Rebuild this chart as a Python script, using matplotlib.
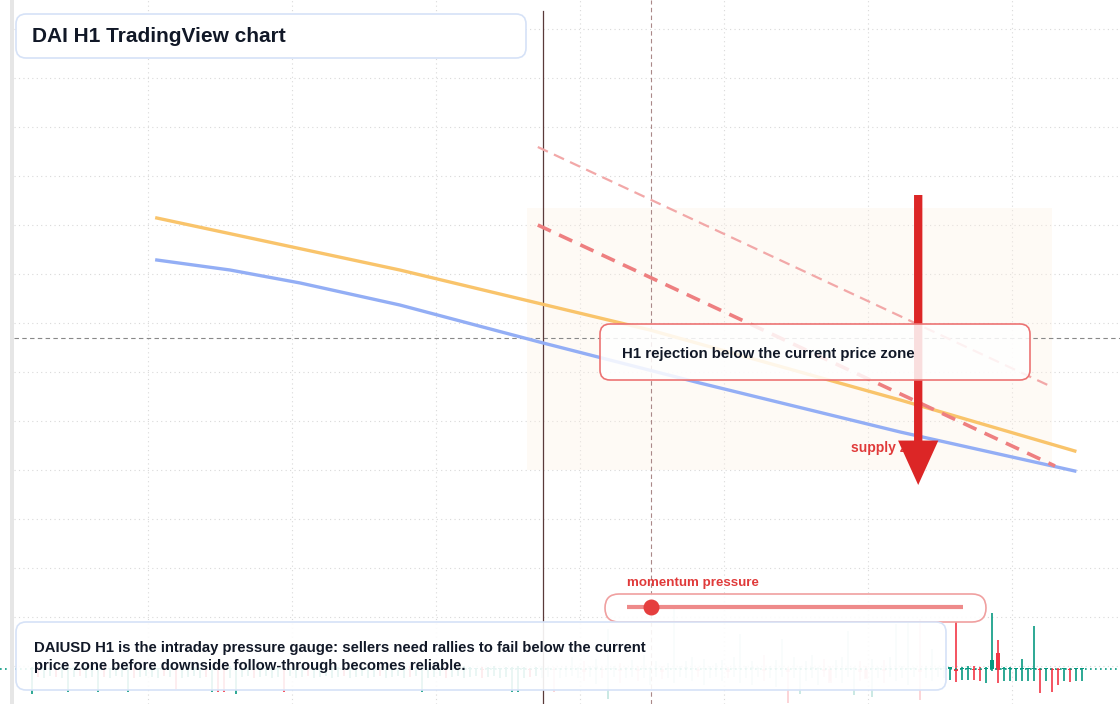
import matplotlib
matplotlib.use("Agg")
import matplotlib.pyplot as plt
from matplotlib.patches import FancyBboxPatch, Rectangle

plt.rcParams["font.family"] = ["Liberation Sans", "DejaVu Sans"]

# ---- data (bar index, price offsets in 1e-5 around 1.0000) ----
BASE = 1.0
PIP = 1e-5

lows = [-25, -8, -9, -7, -8, -9, -23, -8, -7, -9, -8, -23, -8, -9, -7, -8, -23, -9, -8, -7,
        -8, -9, -7, -8, -20, -9, -8, -7, -9, -8, -23, -23, -23, -9, -25, -8, -7, -9, -8, -7,
        -9, -8, -23, -7, -9, -8, -7, -9, -8, -7, -9, -8, -7, -9, -8, -7, -9, -8, -7, -9,
        -8, -7, -9, -8, -7, -23, -9, -8, -7, -9, -8, -7, -9, -8, -7, -9, -8, -7, -9, -8,
        -23, -23, -9, -8, -7, -9, -8, -23, -9, -8, -7, -9, -12, -8, -15, -9, -30, -8, -14, -9,
        -8, -12, -9, -16, -8, -10, -9, -14, -8, -9, -12, -8, -16, -9, -8, -12, -9, -8, -14, -9,
        -16, -8, -12, -9, -18, -8, -34, -9, -25, -12, -9, -16, -8, -12, -9, -14, -8, -26, -12, -9,
        -28, -9, -14, -8, -12, -9, -16, -8, -31, -9, -12, -8, -9, -11, -13, -11, -11, -11, -12, -14,
        -2, -14, -12, -12, -12, -12, -12, -12, -24, -12, -23, -16, -12, -13, -12, -12]
highs = [2, 3, 2, 1, 2, 3, 2, 2, 1, 3, 2, 2, 3, 1, 2, 2, 3, 2, 1, 2,
         2, 1, 3, 2, 2, 1, 3, 2, 2, 3, 1, 2, 2, 3, 2, 1, 2, 2, 3, 1,
         2, 3, 2, 1, 2, 2, 3, 2, 1, 2, 3, 2, 2, 1, 3, 2, 2, 1, 2, 3,
         2, 1, 2, 3, 2, 2, 1, 3, 2, 2, 1, 2, 3, 2, 1, 2, 2, 3, 1, 2,
         2, 3, 2, 1, 2, 3, 2, 2, 1, 3, 12, 2, 8, 3, 10, 2, 40, 3, 6, 2,
         9, 3, 14, 2, 8, 3, 6, 61, 3, 8, 12, 2, 10, 3, 6, 9, 2, 12, 35, 3,
         8, 2, 14, 3, 9, 30, 2, 12, 3, 8, 14, 2, 10, 3, 9, 12, 38, 2, 8, 3,
         10, 2, 9, 12, 45, 3, 48, 2, 50, 3, 20, 2, 3, 1, 47, 2, 3, 3, 2, 2,
         56, 29, 2, 2, 1, 10, 1, 43, 1, 1, 1, 1, 1, 1, 1, 1]
opens = [0] * 161 + [16] + [0] * 14
closes = [1, -1, 1, 1, -1, 1, 1, 1, -1, 1, 1, 1, -1, 1, 1, 1, 1, -1, 1, 1,
          1, 1, -1, 1, -1, 1, 1, 1, 1, -1, 1, -1, -1, 1, 1, 1, 1, -1, 1, 1,
          1, 1, -1, 1, 1, 1, -1, 1, 1, 1, 1, 1, -1, 1, 1, 1, 1, 1, -1, 1,
          1, 1, 1, -1, 1, 1, 1, 1, 1, -1, 1, 1, 1, 1, 1, -1, 1, 1, 1, 1,
          1, 1, 1, -1, 1, 1, 1, -1, 1, 1, 1, 1, -3, 1, 2, -1, 1, 1, -2, 1,
          1, -2, 1, 1, 1, -3, 1, 1, 1, 2, 1, -2, 1, 1, 1, 1, -3, 1, 1, 1,
          2, 1, -2, 1, 1, 1, -3, 1, 1, 1, 2, 1, -2, -14, 1, 1, 1, 1, -3, -10,
          1, 1, -2, 1, 1, 1, 1, 1, -3, 1, 1, 1, 1, 2, -2, 1, 1, -1, -1, 1,
          9, -1, 1, 1, 1, 1, 1, 1, -1, 1, -1, -1, 1, -1, 1, 1]

orange_x = [20.8, 61.3, 103.0, 144.7, 173.8]
orange_y = [451, 399, 339, 269, 218]
blue_x = [20.8, 33.0, 44.7, 61.3, 85.2, 111.3, 144.7, 173.8]
blue_y = [409, 399, 386, 364, 326, 286, 237, 198]
res_x = [84.3, 170.5]
res_y = [444, 203]
res2_x = [84.3, 170.0]
res2_y = [522, 282]
zone_x = [82.5, 170.0]
zone_y = [199, 461]
arrow_x = 147.7
arrow_y = [474, 184]
cross_x, cross_y = 103.2, 331
marker_x = 85.2
momentum = 0.07  # gauge position 0..1

TEAL = "#089981"
RED = "#f23645"


def px(v):
    return BASE + v * PIP


fig = plt.figure(figsize=(11.2, 7.04), dpi=100)
ax = fig.add_axes([0, 0, 1, 1])
ax.set_xlim(-32 / 6, (1120 - 32) / 6)
ax.set_ylim(px(-35), px(669))
ax.axis("off")

# grid
for gx in [148, 292, 436, 580, 724, 868, 1012]:
    ax.axvline((gx - 32) / 6, color="#d9d9d9", lw=0.8, ls=(0, (1, 3)), zorder=0)
for gy in range(29, 704, 49):
    ax.axhline(px(669 - gy), xmin=14 / 1120, color="#d9d9d9", lw=0.8, ls=(0, (1, 3)), zorder=0)

# zone
ax.add_patch(Rectangle((zone_x[0], px(zone_y[0])), zone_x[1] - zone_x[0],
                       px(zone_y[1]) - px(zone_y[0]), color="#fdf1e4", alpha=0.35,
                       lw=0, zorder=1))

# candles (those under the gauge overlays are drawn faded)
for i in range(len(lows)):
    o, c = opens[i], closes[i]
    col = TEAL if c >= o else RED
    a = 0.25 if 85 <= i <= 152 else 1.0
    ax.vlines(i, px(lows[i]), px(highs[i]), color=col, lw=1.2, alpha=a, zorder=2)
    lo, hi = min(o, c), max(o, c)
    ax.add_patch(Rectangle((i - 0.4, px(lo)), 0.8, px(max(hi - lo, 1)) - px(0),
                           color=col, lw=0, alpha=a, zorder=2))
ax.axhline(px(0), color=TEAL, lw=1.2, ls=(0, (1, 2)), zorder=2)

# crosshair and marker
ax.axhline(px(cross_y), xmin=14 / 1120, color="#888888", lw=0.8, ls=(0, (4, 3)), zorder=3)
ax.axvline(cross_x, color="#aa8888", lw=0.8, ls=(0, (4, 3)), zorder=3)
ax.plot([marker_x, marker_x], [px(-60), px(658)], color="#5a3a3a", lw=0.9, zorder=3)

# lines
ax.plot(orange_x, [px(v) for v in orange_y], color="#f9c46b", lw=2.4, zorder=4)
ax.plot(blue_x, [px(v) for v in blue_y], color="#93aef5", lw=2.4, zorder=4)
ax.plot(res_x, [px(v) for v in res_y], color="#ee7f80", lw=2.6, ls=(0, (4, 2.5)), zorder=4)
ax.plot(res2_x, [px(v) for v in res2_y], color="#f2a8a8", lw=1.6, ls=(0, (5, 3)), zorder=4)

ax.text(136.5, px(221), "supply zone", color="#e03a3a", fontsize=10, fontweight="bold",
        va="center", zorder=5)
ax.annotate("", xy=(arrow_x, px(arrow_y[1])), xytext=(arrow_x, px(arrow_y[0])),
            arrowprops=dict(arrowstyle="simple,head_width=29,head_length=32,tail_width=6",
                            mutation_scale=1, color="#dc2626", lw=0, shrinkA=0, shrinkB=0),
            zorder=6)

# overlay (pixel layout)
ov = fig.add_axes([0, 0, 1, 1])
ov.set_xlim(0, 1120)
ov.set_ylim(704, 0)
ov.axis("off")
ov.patch.set_alpha(0)
ov.add_patch(Rectangle((10, 0), 4, 704, color="#e6e6e6", lw=0))


def box(x0, y0, x1, y1, ec, alpha=0.88, r=10):
    ov.add_patch(FancyBboxPatch((x0, y0), x1 - x0, y1 - y0,
                                boxstyle=f"round,pad=0,rounding_size={r}",
                                fc=(1, 1, 1, alpha), ec=ec, lw=1.2))


box(16, 14, 526, 58, "#d6e2f7", 1.0)
ov.text(32, 37, "DAI H1 TradingView chart", fontsize=15, fontweight="bold",
        color="#111827", va="center")

box(600, 324, 1030, 380, "#ec7373", 0.85)
ov.text(622, 354, "H1 rejection below the current price zone", fontsize=10.8,
        fontweight="bold", color="#111827", va="center")

ov.text(627, 583, "momentum pressure", fontsize=9.6, fontweight="bold",
        color="#e03a3a", va="center")
box(605, 594, 986, 622, "#f0a0a0", 0.9, r=14)
ov.plot([627, 963], [607, 607], color="#ee8a8a", lw=3, solid_capstyle="butt")
ov.scatter([627 + momentum * 336], [607], s=110, color="#e53e3e", zorder=5)

box(16, 622, 946, 690, "#d6e2f7", 0.9)
ov.text(34, 657, "DAIUSD H1 is the intraday pressure gauge: sellers need rallies to fail below the current\n"
        "price zone before downside follow-through becomes reliable.", fontsize=10.7,
        fontweight="bold", color="#111827", va="center", linespacing=1.45)

fig.savefig("out.png", dpi=100)
